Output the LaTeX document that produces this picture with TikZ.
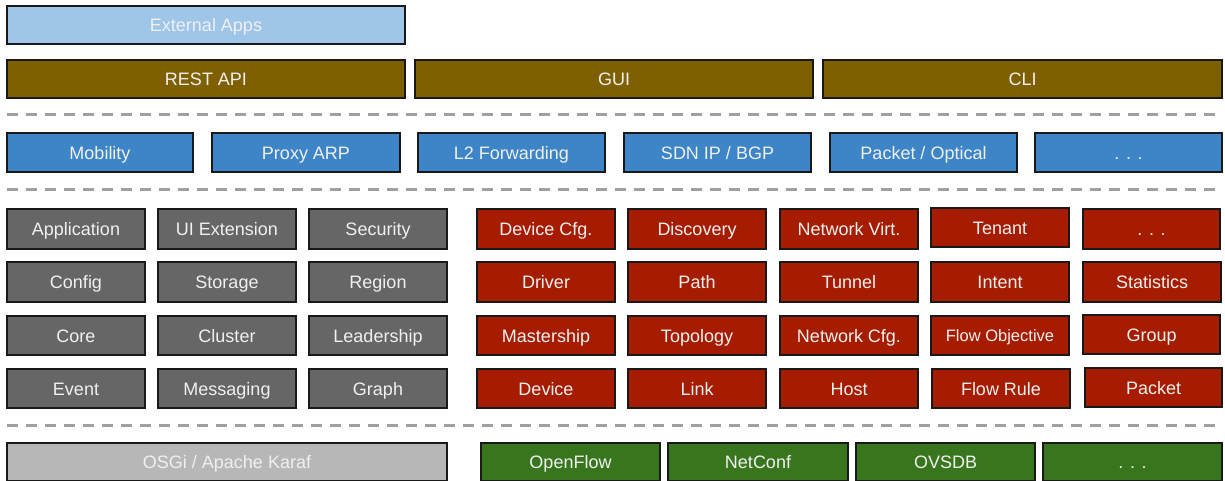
\documentclass[tikz,border=0pt]{standalone}
\usepackage{fontspec}
\setmainfont{Liberation Sans}
\definecolor{extblue}{HTML}{9FC5E8}
\definecolor{apibrown}{HTML}{7F6000}
\definecolor{appblue}{HTML}{3D85C6}
\definecolor{coregray}{HTML}{666666}
\definecolor{svcred}{HTML}{A61C00}
\definecolor{sbgreen}{HTML}{38761D}
\definecolor{karafgray}{HTML}{B7B7B7}
\definecolor{sepgray}{HTML}{A0A0A0}
\definecolor{lbl}{HTML}{F0F0F0}
\tikzset{
  block/.style={draw=black!90, line width=1.6pt, inner sep=0pt, outer sep=0pt,
    text=lbl, font=\fontsize{18}{20}\selectfont, text height=13pt, text depth=0pt},
  sep/.style={draw=sepgray, line width=3pt, dash pattern=on 11pt off 8pt},
}
% #1 style, #2 name, #3 x1, #4 y1, #5 x2, #6 y2, #7 label
\newcommand\blk[7]{%
  \node[block,#1,minimum width={(#5-#3)*1pt},minimum height={(#6-#4)*1pt}]
    (#2) at ({(#3+#5)/2},{(#4+#6)/2}) {#7};}
\begin{document}
\begin{tikzpicture}[x=1pt,y=-1pt]
\useasboundingbox (0,0) rectangle (1225,480);
% external applications
\blk{fill=extblue}{ext}{7}{6}{405}{44}{External Apps}
% northbound interfaces
\blk{fill=apibrown}{rest}{7}{60}{405}{98}{REST API}
\blk{fill=apibrown}{gui}{415}{60}{813}{98}{GUI}
\blk{fill=apibrown}{cli}{823}{60}{1222}{98}{CLI}
\coordinate (s1a) at (7,114); \coordinate (s1b) at (1222,114);
\draw[sep] (s1a) -- (s1b);
% applications
\blk{fill=appblue}{mob}{7}{133}{193}{172}{Mobility}
\blk{fill=appblue}{parp}{212}{133}{400}{172}{Proxy ARP}
\blk{fill=appblue}{ltwo}{418}{133}{605}{172}{L2 Forwarding}
\blk{fill=appblue}{sdnip}{624}{133}{811}{172}{SDN IP / BGP}
\blk{fill=appblue}{popt}{830}{133}{1017}{172}{Packet / Optical}
\blk{fill=appblue}{amore}{1035}{133}{1222}{172}{. . .}
\coordinate (s2a) at (7,189); \coordinate (s2b) at (1222,189);
\draw[sep] (s2a) -- (s2b);
% core subsystems
\blk{fill=coregray}{capp}{7}{209}{145}{249}{Application}
\blk{fill=coregray}{cui}{158}{209}{296}{249}{UI Extension}
\blk{fill=coregray}{csec}{309}{209}{447}{249}{Security}
\blk{fill=coregray}{ccfg}{7}{262}{145}{302}{Config}
\blk{fill=coregray}{cstor}{158}{262}{296}{302}{Storage}
\blk{fill=coregray}{creg}{309}{262}{447}{302}{Region}
\blk{fill=coregray}{ccore}{7}{316}{145}{355}{Core}
\blk{fill=coregray}{cclu}{158}{316}{296}{355}{Cluster}
\blk{fill=coregray}{clead}{309}{316}{447}{355}{Leadership}
\blk{fill=coregray}{cev}{7}{369}{145}{408}{Event}
\blk{fill=coregray}{cmsg}{158}{369}{296}{408}{Messaging}
\blk{fill=coregray}{cgr}{309}{369}{447}{408}{Graph}
% network services
\blk{fill=svcred}{rdcfg}{477}{209}{615}{249}{Device Cfg.}
\blk{fill=svcred}{rdisc}{628}{209}{766}{249}{Discovery}
\blk{fill=svcred}{rnv}{780}{209}{918}{249}{Network Virt.}
\blk{fill=svcred}{rten}{931}{208}{1069}{247}{Tenant}
\blk{fill=svcred}{rmore}{1083}{209}{1220}{249}{. . .}
\blk{fill=svcred}{rdrv}{477}{262}{615}{302}{Driver}
\blk{fill=svcred}{rpath}{628}{262}{766}{302}{Path}
\blk{fill=svcred}{rtun}{780}{262}{918}{302}{Tunnel}
\blk{fill=svcred}{rint}{931}{262}{1069}{302}{Intent}
\blk{fill=svcred}{rstat}{1083}{262}{1221}{302}{Statistics}
\blk{fill=svcred}{rmast}{477}{316}{615}{355}{Mastership}
\blk{fill=svcred}{rtopo}{628}{316}{766}{355}{Topology}
\blk{fill=svcred}{rncfg}{780}{316}{918}{355}{Network Cfg.}
\blk{fill=svcred,font=\fontsize{16.5}{18}\selectfont,text height=12pt}{rfobj}{931}{316}{1069}{355}{Flow Objective}
\blk{fill=svcred}{rgrp}{1083}{315}{1220}{354}{Group}
\blk{fill=svcred}{rdev}{477}{369}{615}{408}{Device}
\blk{fill=svcred}{rlink}{628}{369}{766}{408}{Link}
\blk{fill=svcred}{rhost}{780}{369}{918}{408}{Host}
\blk{fill=svcred}{rfrule}{932}{369}{1070}{408}{Flow Rule}
\blk{fill=svcred}{rpkt}{1085}{368}{1222}{407}{Packet}
\coordinate (s3a) at (7,425); \coordinate (s3b) at (1222,425);
\draw[sep] (s3a) -- (s3b);
% platform and southbound protocols
\blk{fill=karafgray}{karaf}{7}{443}{447}{481}{OSGi / Apache Karaf}
\blk{fill=sbgreen}{of}{481}{443}{660}{481}{OpenFlow}
\blk{fill=sbgreen}{netconf}{668}{443}{848}{481}{NetConf}
\blk{fill=sbgreen}{ovsdb}{856}{443}{1035}{481}{OVSDB}
\blk{fill=sbgreen}{smore}{1043}{443}{1222}{481}{. . .}
\end{tikzpicture}
\end{document}
